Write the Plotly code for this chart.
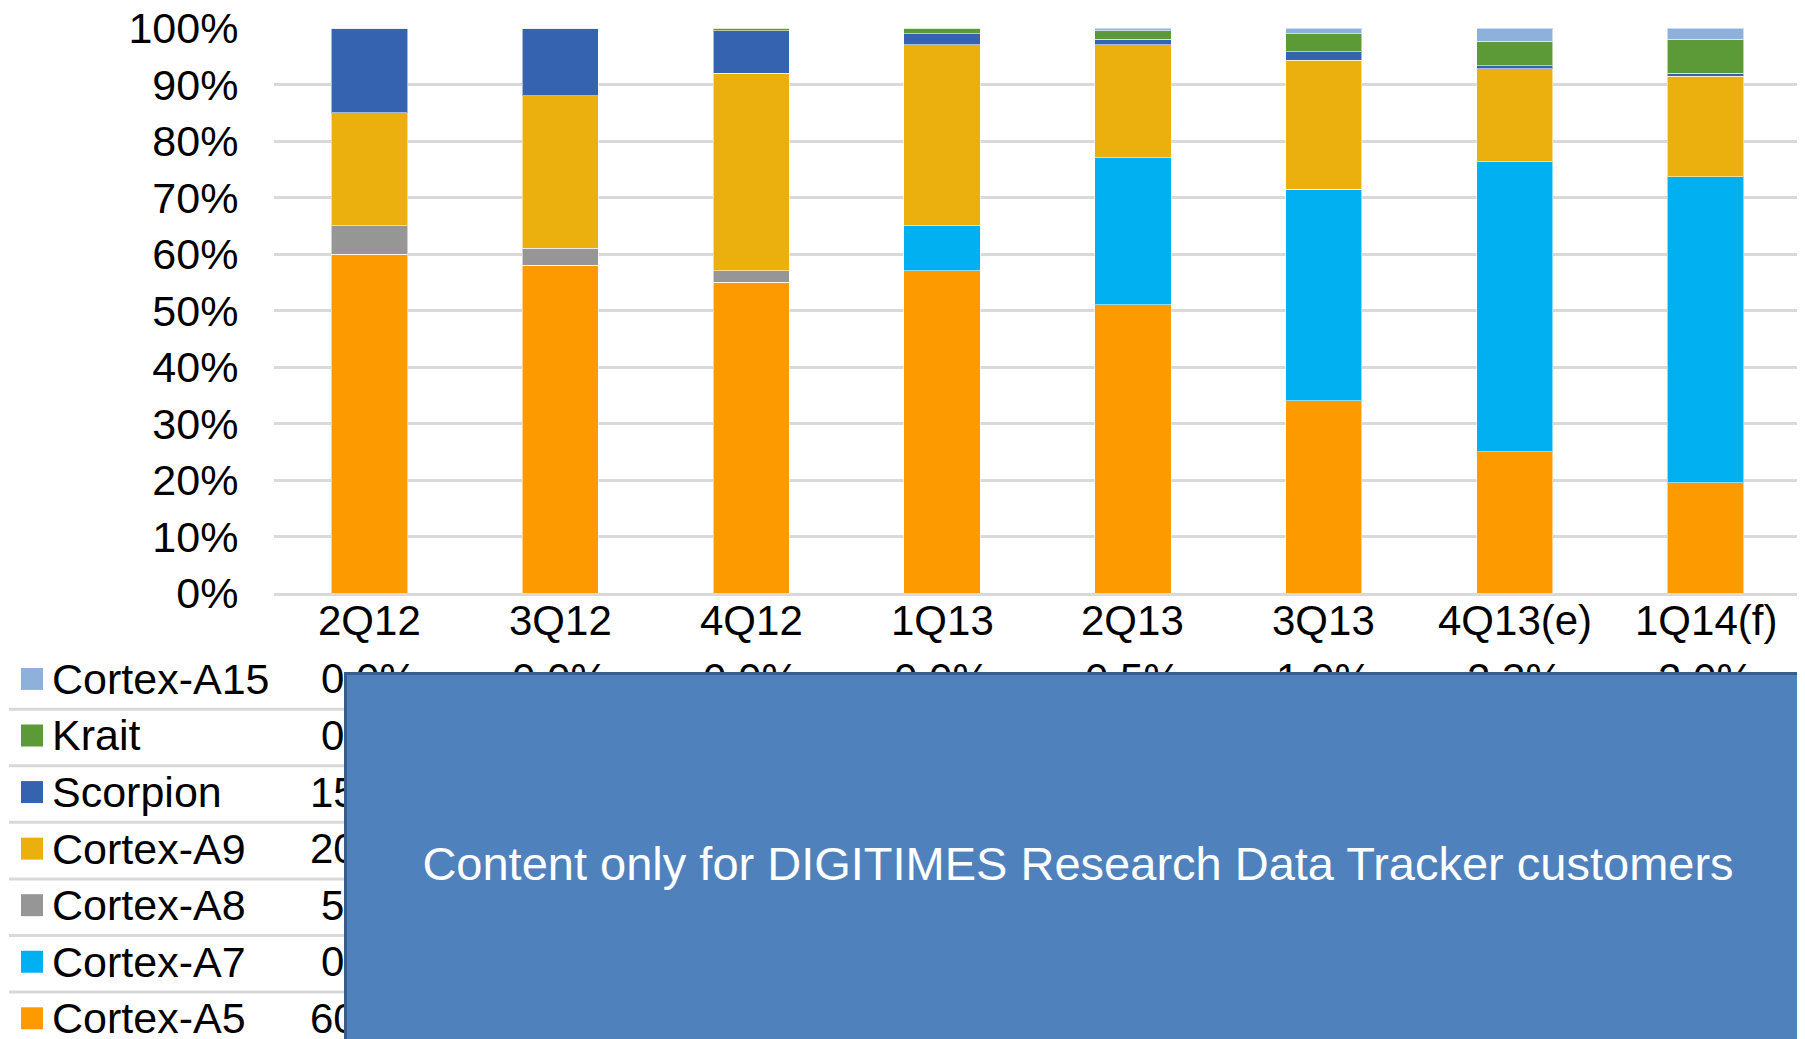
import plotly.graph_objects as go

categories = ["2Q12", "3Q12", "4Q12", "1Q13", "2Q13", "3Q13", "4Q13(e)", "1Q14(f)"]

cortex_a5 = [60.0, 58.0, 55.0, 57.0, 51.0, 34.0, 25.0, 19.5]
cortex_a7 = [0.0, 0.0, 0.0, 8.0, 26.0, 37.5, 51.3, 54.2]
cortex_a8 = [5.0, 3.0, 2.0, 0.0, 0.0, 0.0, 0.0, 0.0]
cortex_a9 = [20.0, 27.0, 35.0, 32.0, 20.0, 22.8, 16.5, 17.8]
scorpion = [15.0, 12.0, 7.5, 2.0, 1.0, 1.5, 0.5, 0.5]
krait = [0.0, 0.0, 0.5, 1.0, 1.5, 3.2, 4.4, 6.0]
cortex_a15 = [0.0, 0.0, 0.0, 0.0, 0.5, 1.0, 2.3, 2.0]

series_bottom_up = [
    ("Cortex-A5", cortex_a5, "#FD9A00"),
    ("Cortex-A7", cortex_a7, "#00B0F0"),
    ("Cortex-A8", cortex_a8, "#969696"),
    ("Cortex-A9", cortex_a9, "#EBB00E"),
    ("Scorpion", scorpion, "#3563B0"),
    ("Krait", krait, "#5B9A36"),
    ("Cortex-A15", cortex_a15, "#8EB1DC"),
]

notice = "Content only for DIGITIMES Research Data Tracker customers"

OFF = 8  # page body margin
PAGE_W, PAGE_H = 1805, 1039
W, H = PAGE_W - OFF, PAGE_H - OFF
# plot area in page pixels
P_LEFT, P_RIGHT, P_TOP, P_BOTTOM = 274, 1801, 27.6, 593
L = P_LEFT - OFF
R = W - (P_RIGHT - OFF)
T = P_TOP - OFF
B = H - (P_BOTTOM - OFF)
PW = W - L - R
PH = H - T - B
FONT = "Liberation Sans, Arial, sans-serif"


def px_x(px):
    return (px - OFF - L) / PW


def px_y(py):
    return (H - B - (py - OFF)) / PH


fig = go.Figure()
for name, vals, color in series_bottom_up:
    fig.add_trace(go.Bar(
        x=categories, y=vals, name=name,
        marker=dict(color=color, line=dict(color="rgba(255,255,255,0.55)", width=1)),
    ))

shapes = []
annotations = []

# category labels
for c in categories:
    annotations.append(dict(xref="x", yref="paper", x=c, y=px_y(621),
                            xanchor="center", yanchor="middle", showarrow=False,
                            text=c, font=dict(family=FONT, size=42, color="#000000")))

# data table rows (top to bottom)
table_rows = list(reversed(series_bottom_up))
row0 = 679
row_step = 56.6
for i, (name, vals, color) in enumerate(table_rows):
    cy = row0 + i * row_step
    shapes.append(dict(type="rect", xref="paper", yref="paper",
                       x0=px_x(21), x1=px_x(43), y0=px_y(cy - 11), y1=px_y(cy + 11),
                       fillcolor=color, line=dict(width=0)))
    annotations.append(dict(xref="paper", yref="paper", x=px_x(50), y=px_y(cy),
                            xanchor="left", yanchor="middle", showarrow=False,
                            text=name, font=dict(family=FONT, size=43, color="#000000")))
    # only the cells not hidden by the notice box: first column and the top row
    visible = range(len(categories)) if i == 0 else [0]
    for j in visible:
        annotations.append(dict(xref="x", yref="paper", x=categories[j], y=px_y(cy),
                                xanchor="center", yanchor="middle", showarrow=False,
                                text=f"{vals[j]:.1f}%", font=dict(family=FONT, size=42, color="#000000")))
    if i < len(table_rows) - 1:
        sy = cy + row_step / 2 + 2
        shapes.append(dict(type="line", xref="paper", yref="paper",
                           x0=px_x(9), x1=px_x(PAGE_W), y0=px_y(sy), y1=px_y(sy),
                           line=dict(color="#D9D9D9", width=3)))

# overlay notice box
annotations.append(dict(xref="paper", yref="paper", x=px_x(344), y=px_y(672),
                        xanchor="left", yanchor="top", showarrow=False,
                        width=1462, height=376, align="center", valign="middle",
                        bgcolor="#4F81BD", bordercolor="#385D8A", borderwidth=3, borderpad=0,
                        text=notice, font=dict(family=FONT, size=47, color="#FFFFFF")))

fig.update_layout(
    width=W, height=H,
    margin=dict(l=L, r=R, t=T, b=B, pad=0, autoexpand=False),
    barmode="stack", bargap=0.6,
    showlegend=False,
    plot_bgcolor="#FFFFFF", paper_bgcolor="#FFFFFF",
    font=dict(family=FONT, size=42, color="#000000"),
    shapes=shapes, annotations=annotations,
    xaxis=dict(showgrid=False, showline=True, linecolor="#D9D9D9", linewidth=3,
               showticklabels=False, ticks="", fixedrange=True, automargin=False),
    yaxis=dict(range=[0, 100], dtick=10, ticksuffix="%", showgrid=True,
               gridcolor="#D9D9D9", gridwidth=3, zeroline=False,
               ticks="outside", ticklen=26, tickcolor="rgba(0,0,0,0)",
               ticklabeloverflow="allow", automargin=False,
               tickfont=dict(family=FONT, size=43, color="#000000"), fixedrange=True),
)

fig.write_html("out.html")
